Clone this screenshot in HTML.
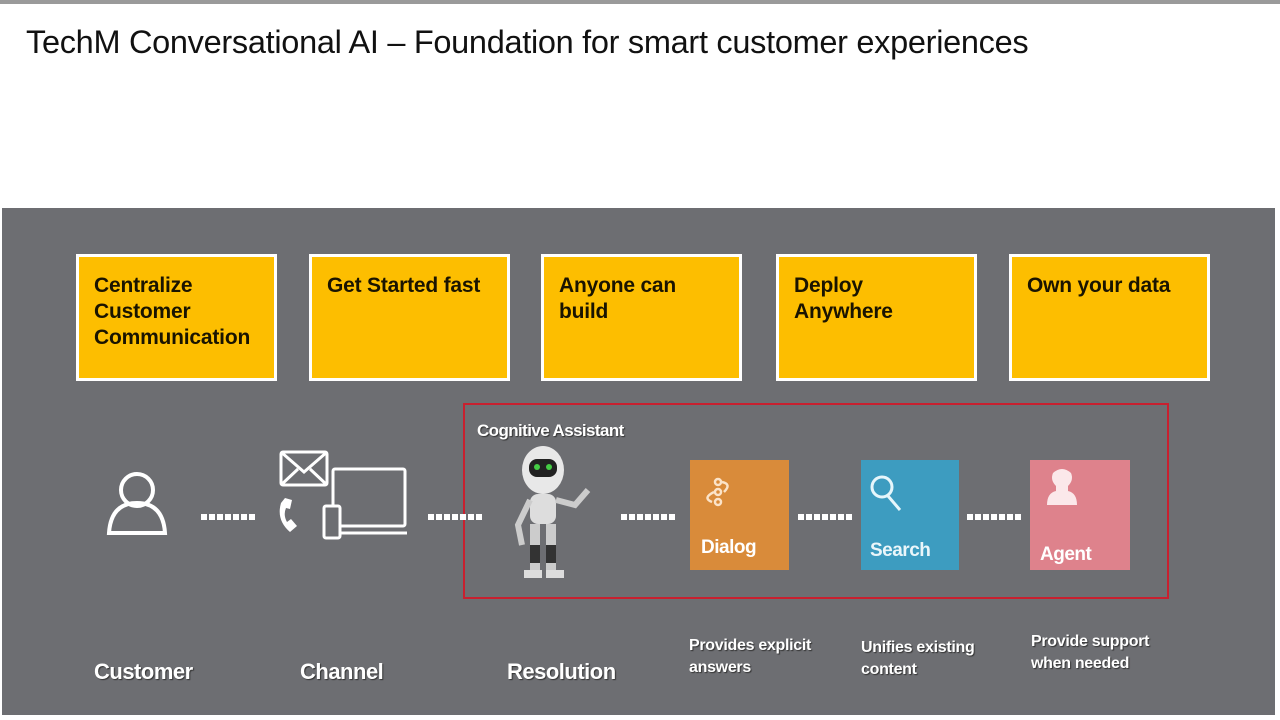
<!DOCTYPE html>
<html><head><meta charset="utf-8"><style>
body{margin:0;width:1280px;height:720px;position:relative;overflow:hidden;background:#fff;font-family:"Liberation Sans",sans-serif}
.a{position:absolute}
.box{position:absolute;top:254px;width:195px;height:121px;background:#fdbe00;border:3px solid #fff;box-sizing:content-box}
.box div{padding:16px 0 0 15px;font-size:21px;font-weight:bold;color:#1a1400;line-height:26px;letter-spacing:-0.2px}
.lbl{position:absolute;color:#fff;font-weight:bold;font-size:22px;letter-spacing:-0.5px;text-shadow:1px 1px 1px #333}
.sm{position:absolute;color:#fff;font-weight:bold;font-size:16px;line-height:22px;letter-spacing:-0.3px;text-shadow:1px 1px 1px #333}
.dots{position:absolute;height:6px;width:56px;background:repeating-linear-gradient(90deg,#fff 0 6px,transparent 6px 8px)}
</style></head><body>
<div class="a" style="left:0;top:0;width:1280px;height:4px;background:#9a9a9a"></div>
<div class="a" style="left:26px;top:24px;font-size:32.5px;color:#111;letter-spacing:-0.3px">TechM Conversational AI – Foundation for smart customer experiences</div>
<div class="a" style="left:2px;top:208px;width:1273px;height:507px;background:#6d6e72"></div>
<div class="box" style="left:76px"><div>Centralize<br>Customer<br>Communication</div></div>
<div class="box" style="left:309px"><div>Get Started fast</div></div>
<div class="box" style="left:541px"><div>Anyone can<br>build</div></div>
<div class="box" style="left:776px"><div>Deploy<br>Anywhere</div></div>
<div class="box" style="left:1009px"><div>Own your data</div></div>
<div class="a" style="left:463px;top:403px;width:702px;height:192px;border:2px solid #c8202f"></div>
<div class="a" style="left:477px;top:421px;color:#fff;font-weight:bold;font-size:17px;letter-spacing:-0.6px;text-shadow:1px 1px 1px #333">Cognitive Assistant</div>
<svg class="a" style="left:0;top:0" width="1280" height="720">
<g fill="none" stroke="#fff" stroke-width="4">
<circle cx="137" cy="490" r="16"/><path d="M109 533 Q111 503 137 503 Q163 503 165 533 Z"/>
</g>
<g fill="none" stroke="#fff" stroke-width="3">
<rect x="281" y="452" width="46" height="33" rx="2"/><path d="M281 452 L304 472 L327 452 M281 485 L298 469 M327 485 L310 469"/>
<rect x="333" y="469" width="72" height="57" rx="2"/><path d="M328 533 L407 533"/>
<rect x="324" y="506" width="16" height="32" rx="2" fill="#6d6e72"/>
</g>
<path d="M281 503 Q276 520 290 532 L297 526 L291 519 L287 522 Q283 515 286 508 L290 509 L292 500 L285 498 Z" fill="#fff"/>
<g>
<ellipse cx="543" cy="470" rx="21" ry="24" fill="#e8e8e8"/>
<rect x="529" y="459" width="28" height="18" rx="8" fill="#222"/>
<circle cx="537" cy="467" r="3" fill="#4c4"/><circle cx="549" cy="467" r="3" fill="#4c4"/>
<rect x="530" y="494" width="26" height="30" rx="8" fill="#ddd"/>
<path d="M530 500 L518 525 L522 545" stroke="#ccc" stroke-width="6" fill="none"/>
<path d="M556 500 L575 505 L588 490" stroke="#ccc" stroke-width="6" fill="none"/>
<rect x="530" y="524" width="10" height="50" fill="#ccc"/><rect x="546" y="524" width="10" height="50" fill="#ccc"/>
<rect x="530" y="545" width="10" height="18" fill="#333"/><rect x="546" y="545" width="10" height="18" fill="#333"/>
<rect x="524" y="570" width="18" height="8" fill="#ddd"/><rect x="546" y="570" width="18" height="8" fill="#ddd"/>
</g>
<rect x="690" y="460" width="99" height="110" fill="#d98b3a"/>
<rect x="861" y="460" width="98" height="110" fill="#3d9cc0"/>
<rect x="1030" y="460" width="100" height="110" fill="#de828c"/>
<g fill="none" stroke="#fbe3c8" stroke-width="2.5">
<circle cx="718" cy="482" r="3"/><circle cx="718" cy="492" r="3"/><circle cx="718" cy="502" r="3"/><path d="M722 482 Q732 484 724 492 M714 492 Q702 498 712 502"/>
</g>
<g fill="none" stroke="#e6f6fb" stroke-width="3"><circle cx="882" cy="487" r="10"/><path d="M888 496 L900 510"/></g>
<path d="M1047 505 Q1047 493 1056 491 L1056 486 Q1050 480 1053 473 Q1062 465 1071 473 Q1074 480 1068 486 L1068 491 Q1077 493 1077 505 Z" fill="#fbe8ea"/>
</svg>
<div class="dots" style="left:201px;top:514px"></div>
<div class="dots" style="left:428px;top:514px"></div>
<div class="dots" style="left:621px;top:514px"></div>
<div class="dots" style="left:798px;top:514px"></div>
<div class="dots" style="left:967px;top:514px"></div>
<div class="a" style="left:701px;top:537px;color:#fff;font-weight:bold;font-size:19px;letter-spacing:-0.5px">Dialog</div>
<div class="a" style="left:870px;top:540px;color:#eaf6fa;font-weight:bold;font-size:19px;letter-spacing:-0.5px">Search</div>
<div class="a" style="left:1040px;top:544px;color:#fff;font-weight:bold;font-size:19px;letter-spacing:-0.5px">Agent</div>
<div class="lbl" style="left:94px;top:659px">Customer</div>
<div class="lbl" style="left:300px;top:659px">Channel</div>
<div class="lbl" style="left:507px;top:659px">Resolution</div>
<div class="sm" style="left:689px;top:635px">Provides explicit<br>answers</div>
<div class="sm" style="left:861px;top:637px">Unifies existing<br>content</div>
<div class="sm" style="left:1031px;top:631px">Provide support<br>when needed</div>
</body></html>
